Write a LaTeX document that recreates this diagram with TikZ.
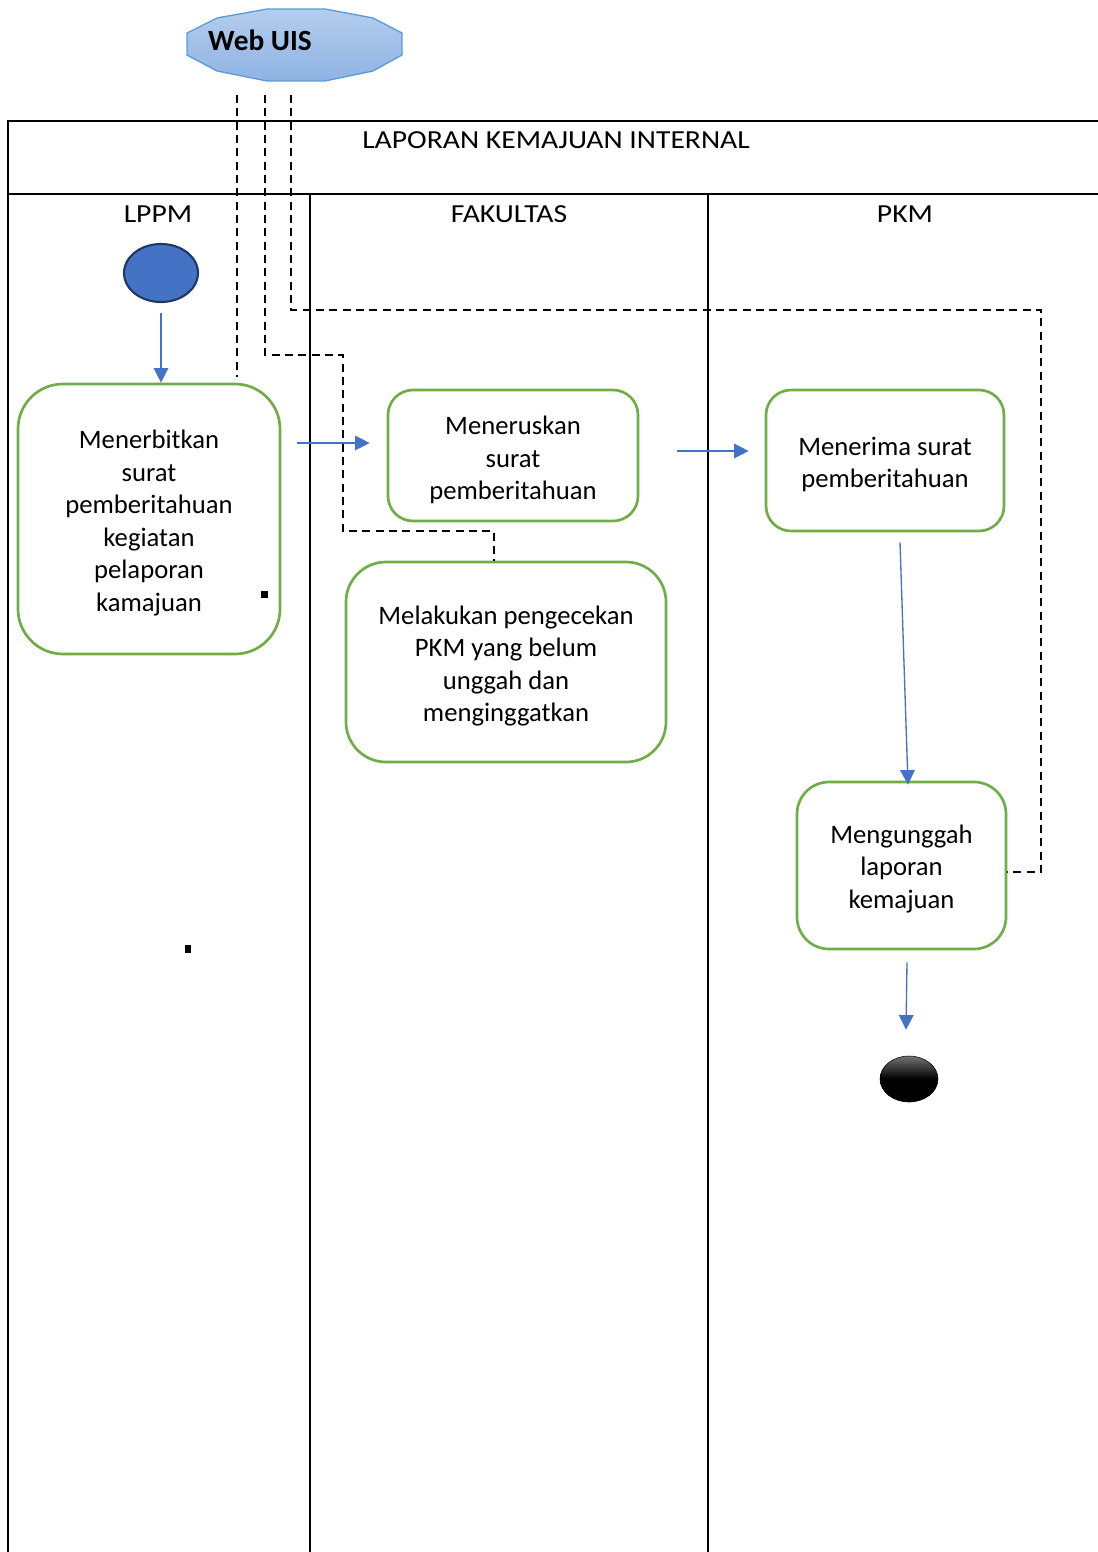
\documentclass[tikz,border=0pt]{standalone}
\usepackage{fontspec}
\setmainfont{Carlito}
\newfontfamily\headfont[FakeStretch=1.14]{Carlito}
\usetikzlibrary{arrows.meta,calc,shapes.geometric}
\definecolor{flowblue}{HTML}{4472C4}
\definecolor{boxgreen}{HTML}{70AD47}
\definecolor{navy}{HTML}{203864}
\definecolor{webtop}{HTML}{B4CDED}
\definecolor{webbot}{HTML}{8EB3E3}
\definecolor{webline}{HTML}{5B9BD5}

\begin{document}
\begin{tikzpicture}[x=0.75pt,y=-0.75pt,
  txt/.style={font=\fontsize{20}{24.4}\selectfont, align=center, inner sep=0pt},
  head/.style={font=\headfont\fontsize{19.5}{24.4}\selectfont, inner sep=0pt},
  act/.style={draw=boxgreen, line width=2pt, inner sep=0pt},
  flow/.style={draw=flowblue, line width=1pt, -{Triangle[length=11pt,width=11pt]}},
  link/.style={black, line width=1.3pt, dash pattern=on 6pt off 4pt},
  frame/.style={black, line width=1.5pt}]
\useasboundingbox (0,0) rectangle (1098,1552);

% source system
\shadedraw[top color=webtop, bottom color=webbot, draw=webline, line width=1pt]
  (217,18) -- (267,9) -- (325,9) -- (373,18) -- (402,33) -- (402,55) -- (373,71)
  -- (325,81) -- (267,81) -- (217,71) -- (187,55) -- (187,33) -- cycle;
\node[inner sep=0pt, font=\fontsize{22}{26}\selectfont\bfseries] (web) at (260,40) {Web UIS};
\coordinate (w1) at (237,95);
\coordinate (w2) at (265,95);
\coordinate (w3) at (291,95);

% swimlane frame
\draw[frame] (1098,121) -- (8,121) -- (8,1552);
\draw[frame] (8,194) -- (1098,194);
\draw[frame] (310,194) -- (310,1552);
\draw[frame] (708,194) -- (708,1552);
\node[head] (title) at (556,140) {LAPORAN KEMAJUAN INTERNAL};
\node[head] (lane1) at (158,214) {LPPM};
\node[head] (lane2) at (509,214) {FAKULTAS};
\node[head] (lane3) at (905,214) {PKM};

% start and end
\node[ellipse, fill=flowblue, draw=navy, line width=1.6pt,
      minimum width=74*0.75pt, minimum height=58*0.75pt] (start) at (161,273) {};
\node[ellipse, top color=black!55, bottom color=black, middle color=black, draw=black,
      minimum width=58*0.75pt, minimum height=46*0.75pt] (end) at (909,1079) {};

% activities
\node[act, rounded corners=45*0.75pt, minimum width=262*0.75pt, minimum height=270*0.75pt]
  (b1) at (149,519) {};
\node[act, rounded corners=25*0.75pt, minimum width=250*0.75pt, minimum height=131*0.75pt]
  (b2) at (513,455.5) {};
\node[act, rounded corners=25*0.75pt, minimum width=238*0.75pt, minimum height=141*0.75pt]
  (b3) at (885,460.5) {};
\node[act, rounded corners=40*0.75pt, minimum width=320*0.75pt, minimum height=200*0.75pt]
  (b4) at (506,662) {};
\node[act, rounded corners=32*0.75pt, minimum width=209*0.75pt, minimum height=167*0.75pt]
  (b5) at (901.5,865.5) {};

\node[txt] (t1) at ([yshift=-3pt]b1.center) {Menerbitkan\\surat\\pemberitahuan\\kegiatan\\pelaporan\\kamajuan};
\node[txt] (t2) at ([yshift=-3.5pt]b2.center) {Meneruskan\\surat\\pemberitahuan};
\node[txt] (t3) at ([yshift=-3pt]b3.center) {Menerima surat\\pemberitahuan};
\node[txt] (t4) at ([yshift=-3pt]b4.center) {Melakukan pengecekan\\PKM yang belum\\unggah dan\\menginggatkan};
\node[txt] (t5) at ([yshift=-2.5pt]b5.center) {Mengunggah\\laporan\\kemajuan};

% stray marks
\fill[black] (261,591) rectangle (268,598);
\fill[black] (185,945) rectangle (191,953);

% control flow
\draw[flow] ([yshift=-7.5pt]start.south) -- (start.south |- b1.north);
\draw[flow] ($(b1.east)+(16,-76)$) -- ($(b2.west)+(-17,-12.5)$);
\draw[flow] ($(b2.east)+(38,-4.5)$) -- ($(b3.west)+(-16,-9.5)$);
\draw[flow] ($(b3.south)+(15,10)$) -- ($(b5.north)+(6.5,4)$);
\draw[flow] ($(b5.south)+(5.5,12)$) -- ($(end.north)+(-3,-26)$);

% links to the web system
\coordinate (k2a) at (343,355);
\coordinate (k2b) at (343,531);
\coordinate (k3a) at (1041,310);
\coordinate (k3b) at (1041,872);
\draw[link, shorten >=4pt] (w1) -- (w1 |- b1.north);
\draw[link] (w2) |- (k2a) -- (k2b) -| ([xshift=-9pt]b4.north);
\draw[link] (w3) |- (k3a) -- (k3b) -- (b5.east |- k3b);
\end{tikzpicture}
\end{document}
